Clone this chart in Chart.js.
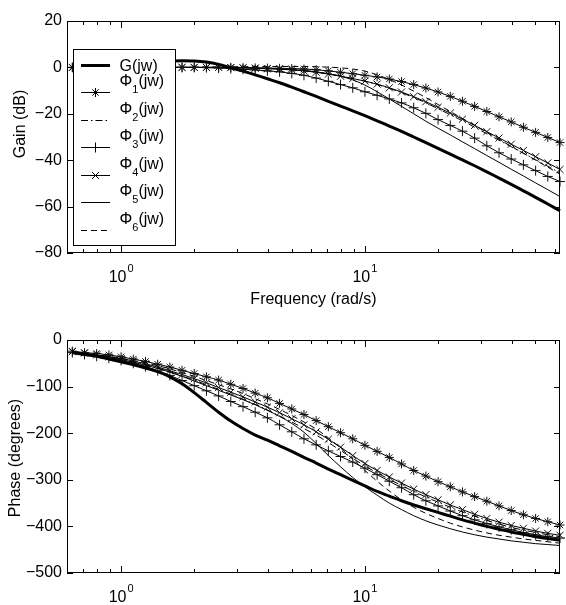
<!DOCTYPE html>
<html>
<head>
<meta charset="utf-8">
<script src="https://cdn.jsdelivr.net/npm/chart.js@4.4.1/dist/chart.umd.min.js"></script>
<style>
  html, body { margin: 0; padding: 0; background: #fff; }
  #wrap { position: relative; width: 566px; height: 605px; }
  .box { position: absolute; left: 0; }
</style>
</head>
<body>
<div id="wrap">
  <div class="box" style="top:0"><canvas id="gainChart" width="566" height="320"></canvas></div>
  <div class="box" style="top:320px"><canvas id="phaseChart" width="566" height="285"></canvas></div>
</div>
<script>
// === DATA ===
const freq = [0.631, 0.708, 0.794, 0.891, 1.000, 1.122, 1.259, 1.413, 1.585, 1.778,
              1.995, 2.239, 2.512, 2.818, 3.162, 3.548, 3.981, 4.467, 5.012, 5.623,
              6.310, 7.079, 7.943, 8.913, 10.00, 11.22, 12.59, 14.13, 15.85, 17.78,
              19.95, 22.39, 25.12, 28.18, 31.62, 35.48, 39.81, 44.67, 50.12, 56.23, 63.10];

const seriesNames = ['G(jw)', 'Φ1(jw)', 'Φ2(jw)', 'Φ3(jw)', 'Φ4(jw)', 'Φ5(jw)', 'Φ6(jw)'];

// gain (dB)
const gainG  = [0.4, 0.7, 1.0, 1.3, 1.6, 1.9, 2.2, 2.5, 2.7, 2.9, 2.8, 2.3, 1.3, -0.2, -1.6, -3.2, -4.9, -6.6, -8.5, -10.5,
                -12.5, -14.6, -16.7, -18.7, -20.8, -23.0, -25.3, -27.6, -30.0, -32.4, -34.9, -37.4, -39.9, -42.4, -45.0, -47.7, -50.4, -53.2, -56.0, -58.9, -61.8];
const gainP1 = [0, 0, 0, 0, 0, 0, 0, 0, 0, 0, 0, 0, 0, 0, -0.1, -0.2, -0.3, -0.4, -0.5, -0.7,
                -1.0, -1.5, -2.1, -2.7, -3.4, -4.1, -5.0, -6.1, -7.4, -8.9, -10.6, -12.5, -14.6, -16.8, -19.0, -21.3, -23.5, -25.8, -28.0, -30.2, -32.4];
const gainP2 = [0, 0, 0, 0, 0, 0, 0, 0, 0, 0, 0, 0, 0, 0, -0.1, -0.3, -0.5, -0.7, -1.0, -1.4,
                -2.0, -2.8, -3.7, -4.8, -6.0, -7.4, -9.0, -10.9, -13.0, -15.3, -17.8, -20.4, -23.0, -25.8, -28.6, -31.4, -34.2, -37.0, -39.8, -42.6, -45.5];
const gainP3 = [0, 0, 0, 0, 0, 0, 0, 0, 0, 0, 0, -0.1, -0.3, -0.5, -0.8, -1.1, -1.5, -1.9, -2.6, -3.4,
                -4.6, -6.0, -7.4, -8.8, -10.5, -12.0, -13.6, -15.3, -17.4, -19.8, -22.5, -25.0, -27.5, -30.5, -33.8, -36.8, -39.5, -42.0, -44.5, -47.0, -49.2];
const gainP4 = [0, 0, 0, 0, 0, 0, 0, 0, 0, 0, 0, 0, 0, -0.1, -0.2, -0.4, -0.6, -0.8, -1.1, -1.5,
                -2.1, -2.9, -3.8, -4.8, -5.9, -7.2, -8.8, -10.6, -12.6, -14.8, -17.2, -19.7, -22.3, -25.0, -27.7, -30.4, -33.1, -35.8, -38.5, -41.2, -44.0];
const gainP5 = [0, 0, 0, 0, 0, 0, 0, 0, 0, 0, 0, 0, 0, 0, 0, -0.2, -0.4, -0.6, -0.9, -1.3,
                -1.9, -2.7, -3.8, -5.4, -7.6, -10.5, -13.6, -16.8, -20.0, -23.2, -26.2, -29.1, -32.1, -35.0, -38.0, -40.9, -43.9, -46.8, -49.8, -52.7, -55.7];
const gainP6 = [0, 0, 0, 0, 0, 0, 0, 0, 0, 0, 0.1, 0.2, 0.2, 0.3, 0.3, 0.4, 0.4, 0.4, 0.4, 0.4,
                0.3, 0.1, -0.2, -0.7, -1.6, -3.2, -5.2, -7.6, -10.2, -13.0, -16.0, -19.0, -22.0, -25.0, -28.0, -31.0, -34.0, -37.0, -40.0, -43.0, -46.0];

// phase (degrees)
const phaseG  = [-27, -31, -35, -41, -47, -53, -60, -68, -79, -94, -113, -134, -155, -174, -190, -204, -215, -227, -239, -252,
                 -264, -277, -289, -301, -313, -325, -335, -345, -354, -362, -370, -378, -386, -393, -400, -406, -412, -417, -422, -426, -430];
const phaseP1 = [-24, -27, -29, -32, -36, -41, -46, -52, -58, -65, -72, -79, -86, -95, -104, -114, -124, -136, -148, -160,
                 -173, -186, -199, -212, -226, -239, -252, -266, -280, -292, -304, -315, -326, -336, -346, -356, -366, -375, -383, -390, -397];
const phaseP2 = [-26, -29, -32, -36, -41, -47, -53, -60, -68, -77, -86, -96, -106, -116, -127, -138, -150, -163, -176, -190,
                 -204, -220, -237, -254, -270, -285, -299, -312, -325, -337, -348, -359, -369, -378, -387, -395, -402, -408, -413, -418, -422];
const phaseP3 = [-27, -31, -35, -39, -44, -50, -57, -66, -76, -87, -98, -109, -120, -132, -143, -155, -167, -182, -197, -212,
                 -225, -238, -250, -262, -275, -289, -303, -317, -332, -345, -356, -367, -377, -386, -394, -401, -407, -413, -418, -422, -425];
const phaseP4 = [-25, -28, -32, -36, -40, -45, -51, -58, -66, -74, -83, -92, -102, -112, -122, -133, -144, -156, -169, -182,
                 -197, -213, -230, -248, -265, -280, -294, -307, -320, -332, -343, -354, -364, -374, -383, -391, -398, -404, -410, -415, -419];
const phaseP5 = [-26, -30, -34, -38, -42, -48, -54, -61, -69, -78, -88, -98, -108, -118, -128, -139, -151, -164, -179, -198,
                 -222, -248, -272, -295, -315, -333, -350, -364, -377, -388, -397, -405, -412, -418, -423, -427, -431, -434, -437, -439, -441];
const phaseP6 = [-25, -28, -31, -35, -39, -44, -49, -55, -62, -70, -78, -87, -96, -105, -115, -126, -137, -149, -162, -176,
                 -191, -210, -232, -256, -280, -303, -324, -343, -359, -372, -383, -393, -401, -408, -414, -419, -423, -427, -430, -433, -436];

// tick positions / labels
const gainTicks = [20, 0, -20, -40, -60, -80];
const phaseTicks = [0, -100, -200, -300, -400, -500];
const xMajor = [1, 10];
const xMajorExp = ['0', '1'];
const xMinor = [0.7, 0.8, 0.9, 2, 3, 4, 5, 6, 7, 8, 9, 20, 30, 40, 50, 60];

// === STYLE PER SERIES ===
const lineStyle = [
    { width: 3, dash: [],             point: false,      r: 0 },
    { width: 1, dash: [],             point: 'star',     r: 4.5 },
    { width: 1, dash: [7, 3, 1.5, 3], point: false,      r: 0 },
    { width: 1, dash: [],             point: 'cross',    r: 5 },
    { width: 1, dash: [],             point: 'crossRot', r: 5 },
    { width: 1, dash: [],             point: false,      r: 0 },
    { width: 1, dash: [6, 4],         point: false,      r: 0 }
];

const FONT = '"Liberation Sans", Arial, Helvetica, sans-serif';

function buildDatasets(seriesList) {
    return seriesList.map((vals, i) => {
        const st = lineStyle[i];
        return {
            label: seriesNames[i],
            data: freq.map((f, k) => ({ x: f, y: vals[k] })),
            borderColor: '#000',
            borderWidth: st.width,
            borderDash: st.dash,
            pointStyle: st.point || 'circle',
            pointRadius: st.point ? st.r : 0,
            pointBorderColor: '#111',
            pointBorderWidth: 1,
            pointBackgroundColor: 'rgba(0,0,0,0)',
            cubicInterpolationMode: 'monotone',
            fill: false,
            clip: false
        };
    });
}

// === PLUGIN: kotak sumbu, tick ke dalam, label 10^n, judul, legenda ===
const bodeFrame = {
    id: 'bodeFrame',
    afterDraw(chart, args, opts) {
        const { ctx, chartArea: a, scales: { x, y } } = chart;
        ctx.save();
        ctx.strokeStyle = '#000';
        ctx.fillStyle = '#000';
        ctx.lineWidth = 1;
        ctx.setLineDash([]);

        // frame
        ctx.strokeRect(a.left + 0.5, a.top + 0.5, a.right - a.left - 1, a.bottom - a.top - 1);

        // x ticks (bottom + top, pointing inward)
        ctx.beginPath();
        const xTick = (v, len) => {
            const px = Math.round(x.getPixelForValue(v)) + 0.5;
            ctx.moveTo(px, a.bottom); ctx.lineTo(px, a.bottom - len);
            ctx.moveTo(px, a.top); ctx.lineTo(px, a.top + len);
        };
        xMinor.forEach(v => xTick(v, 4));
        xMajor.forEach(v => xTick(v, 7));
        // y ticks (left + right)
        opts.yTicks.forEach(v => {
            const py = Math.round(y.getPixelForValue(v)) + 0.5;
            ctx.moveTo(a.left, py); ctx.lineTo(a.left + 6, py);
            ctx.moveTo(a.right, py); ctx.lineTo(a.right - 6, py);
        });
        ctx.stroke();

        // x tick labels 10^n
        xMajor.forEach((v, i) => {
            const px = x.getPixelForValue(v);
            ctx.font = '16px ' + FONT;
            const wBase = ctx.measureText('10').width;
            ctx.font = '11px ' + FONT;
            const wExp = ctx.measureText(xMajorExp[i]).width;
            const left = px - (wBase + 1 + wExp) / 2;
            ctx.textAlign = 'left';
            ctx.textBaseline = 'alphabetic';
            ctx.font = '16px ' + FONT;
            ctx.fillText('10', left, a.bottom + 28.5);
            ctx.font = '11px ' + FONT;
            ctx.fillText(xMajorExp[i], left + wBase + 1, a.bottom + 18.5);
        });

        // axis titles
        ctx.font = '16px ' + FONT;
        if (opts.xTitle) {
            ctx.textAlign = 'center';
            ctx.textBaseline = 'alphabetic';
            ctx.fillText(opts.xTitle, (a.left + a.right) / 2, opts.xTitleY);
        }
        ctx.save();
        ctx.translate(opts.yTitleX, opts.yTitleY);
        ctx.rotate(-Math.PI / 2);
        ctx.textAlign = 'center';
        ctx.textBaseline = 'middle';
        ctx.fillText(opts.yTitle, 0, 0);
        ctx.restore();

        if (opts.legend) drawLegend(ctx);
        ctx.restore();
    }
};

function drawLegend(ctx) {
    const bx = 73.5, by = 49.5, bw = 102, bh = 196;
    const rows = [65.5, 92.5, 120.5, 147.5, 175.5, 202.5, 230.5];
    ctx.fillStyle = '#fff';
    ctx.fillRect(bx, by, bw, bh);
    ctx.strokeStyle = '#000';
    ctx.lineWidth = 1;
    ctx.strokeRect(bx, by, bw, bh);

    rows.forEach((ly, i) => {
        const st = lineStyle[i];
        ctx.strokeStyle = '#000';
        ctx.lineWidth = st.width;
        ctx.setLineDash(st.dash);
        ctx.beginPath();
        ctx.moveTo(81, ly); ctx.lineTo(110, ly);
        ctx.stroke();
        ctx.setLineDash([]);
        if (st.point) {
            ctx.lineWidth = 1;
            Chart.helpers.drawPoint(ctx, { pointStyle: st.point, radius: st.r, borderWidth: 1, rotation: 0 }, 95.5, ly);
        }
        ctx.fillStyle = '#000';
        ctx.textAlign = 'left';
        ctx.textBaseline = 'alphabetic';
        ctx.font = '16px ' + FONT;
        if (i === 0) {
            ctx.fillText(seriesNames[0], 119.5, ly + 5);
        } else {
            const sub = String(i);
            ctx.fillText('Φ', 119.5, ly - 7);
            let cx = 119.5 + ctx.measureText('Φ').width;
            ctx.font = '11px ' + FONT;
            ctx.fillText(sub, cx, ly + 0.5);
            cx += ctx.measureText(sub).width;
            ctx.font = '16px ' + FONT;
            ctx.fillText('(jw)', cx, ly - 7);
        }
    });
}

function makeOptions(cfg) {
    return {
        responsive: false,
        animation: false,
        events: [],
        layout: { padding: { top: cfg.padTop, right: 1, left: 0, bottom: 0 } },
        plugins: {
            legend: { display: false },
            tooltip: { enabled: false },
            bodeFrame: cfg.frame
        },
        scales: {
            x: {
                type: 'logarithmic',
                min: freq[0],
                max: freq[freq.length - 1],
                ticks: { display: false },
                grid: { display: false, drawTicks: false },
                border: { display: false },
                afterFit: s => { s.height = cfg.xHeight; }
            },
            y: {
                type: 'linear',
                min: cfg.yMin,
                max: cfg.yMax,
                ticks: {
                    stepSize: cfg.step,
                    padding: 5,
                    color: '#000',
                    font: { family: FONT, size: 16 },
                    callback: v => String(v).replace('-', '\u2212')
                },
                grid: { display: false, drawTicks: false },
                border: { display: false },
                afterFit: s => { s.width = 67; }
            }
        }
    };
}

// === GRAFIK GAIN ===
new Chart(document.getElementById('gainChart'), {
    type: 'line',
    data: { datasets: buildDatasets([gainG, gainP1, gainP2, gainP3, gainP4, gainP5, gainP6]) },
    options: makeOptions({
        padTop: 21, xHeight: 67, yMin: -80, yMax: 20, step: 20,
        frame: { yTicks: gainTicks, yTitle: 'Gain (dB)', yTitleX: 21, yTitleY: 124,
                 xTitle: 'Frequency (rad/s)', xTitleY: 304, legend: true }
    }),
    plugins: [bodeFrame]
});

// === GRAFIK PHASE ===
new Chart(document.getElementById('phaseChart'), {
    type: 'line',
    data: { datasets: buildDatasets([phaseG, phaseP1, phaseP2, phaseP3, phaseP4, phaseP5, phaseP6]) },
    options: makeOptions({
        padTop: 20, xHeight: 32, yMin: -500, yMax: 0, step: 100,
        frame: { yTicks: phaseTicks, yTitle: 'Phase (degrees)', yTitleX: 15.5, yTitleY: 138,
                 xTitle: null, legend: false }
    }),
    plugins: [bodeFrame]
});
</script>
</body>
</html>
